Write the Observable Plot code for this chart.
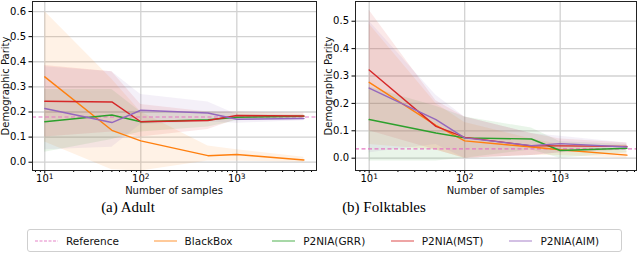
<!DOCTYPE html>
<html>
<head>
<meta charset="utf-8">
<script src="https://cdn.jsdelivr.net/npm/d3@7"></script>
<script src="https://cdn.jsdelivr.net/npm/@observablehq/plot@0.6"></script>
<style>
  html, body { margin: 0; padding: 0; background: #fff; }
  #root { position: relative; width: 640px; height: 255px; overflow: hidden; font-family: "DejaVu Sans", sans-serif; }
  .panel { position: absolute; top: 0; }
  .caption { position: absolute; font-family: "Liberation Serif", serif; font-size: 15px; color: #000; transform: translateX(-50%); white-space: nowrap; }
  #legend { position: absolute; left: 27px; top: 229px; width: 595px; height: 23px; box-sizing: border-box;
            border: 1px solid #cfcfcf; border-radius: 3px; background: #fff; display: flex; }
  .item { flex: 1; display: flex; align-items: center; padding-left: 7px; font-size: 10.5px; color: #111; }
  .item svg { margin-right: 8px; }
</style>
</head>
<body>
<div id="root">
  <div id="left" class="panel" style="left:0px"></div>
  <div id="right" class="panel" style="left:320px"></div>
  <div class="caption" style="left:128px; top:199px">(a) Adult</div>
  <div class="caption" style="left:384px; top:199px">(b) Folktables</div>
  <div id="legend"></div>
</div>
<script>
// ---------- data ----------
const samples = [10, 50, 100, 500, 1000, 5000];
const methods = ["BlackBox", "P2NIA(GRR)", "P2NIA(MST)", "P2NIA(AIM)"];
const methodColors = ["#ff7f0e", "#2ca02c", "#d62728", "#9467bd"];
const referenceColor = "#e377c2";

// Adult
const adultReference = 0.180;
const adultBlackBox    = [0.340, 0.127, 0.085, 0.026, 0.031, 0.009];
const adultBlackBoxLo  = [0.080, -0.030, -0.035, 0.005, 0.005, 0.000];
const adultBlackBoxHi  = [0.600, 0.330, 0.200, 0.065, 0.050, 0.020];
const adultGRR         = [0.161, 0.188, 0.161, 0.169, 0.179, 0.183];
const adultGRRLo       = [0.040, 0.090, 0.120, 0.140, 0.165, 0.175];
const adultGRRHi       = [0.290, 0.290, 0.200, 0.200, 0.195, 0.190];
const adultMST         = [0.243, 0.240, 0.161, 0.166, 0.186, 0.184];
const adultMSTLo       = [0.100, 0.120, 0.100, 0.130, 0.170, 0.175];
const adultMSTHi       = [0.385, 0.360, 0.230, 0.200, 0.200, 0.195];
const adultAIM         = [0.214, 0.158, 0.207, 0.196, 0.171, 0.174];
const adultAIMLo       = [0.050, 0.060, 0.150, 0.160, 0.155, 0.165];
const adultAIMHi       = [0.380, 0.360, 0.270, 0.240, 0.190, 0.185];

// Folktables
const folkReference = 0.034;
const folkBlackBox     = [0.277, 0.120, 0.063, 0.041, 0.031, 0.011];
const folkBlackBoxLo   = [0.050, 0.030, 0.000, 0.010, 0.010, 0.000];
const folkBlackBoxHi   = [0.490, 0.200, 0.130, 0.070, 0.050, 0.025];
const folkGRR          = [0.141, 0.092, 0.074, 0.070, 0.028, 0.036];
const folkGRRLo        = [-0.010, -0.010, 0.000, 0.030, 0.000, 0.020];
const folkGRRHi        = [0.260, 0.190, 0.150, 0.110, 0.060, 0.050];
const folkMST          = [0.322, 0.116, 0.076, 0.045, 0.045, 0.043];
const folkMSTLo        = [0.100, 0.030, 0.000, 0.010, 0.020, 0.030];
const folkMSTHi        = [0.540, 0.210, 0.150, 0.090, 0.070, 0.055];
const folkAIM          = [0.256, 0.141, 0.074, 0.046, 0.053, 0.041];
const folkAIMLo        = [0.020, 0.050, 0.000, 0.010, 0.020, 0.030];
const folkAIMHi        = [0.500, 0.230, 0.150, 0.090, 0.080, 0.055];

const xMajorTicks = [10, 100, 1000];
const xMinorTicks = [8, 9, 20, 30, 40, 50, 60, 70, 80, 90, 200, 300, 400, 500, 600, 700, 800, 900, 2000, 3000, 4000, 5000, 6000];
const adultYTicks = [0, 0.1, 0.2, 0.3, 0.4, 0.5, 0.6];
const folkYTicks = [0, 0.1, 0.2, 0.3, 0.4, 0.5];
const xLabel = "Number of samples";
const yLabel = "Demographic Parity";

// ---------- build ----------
function rows(means, los, his) {
  const out = [];
  methods.forEach((m, k) => {
    samples.forEach((s, i) => out.push({method: m, n: s, v: means[k][i], lo: los[k][i], hi: his[k][i]}));
  });
  return out;
}

function panel(el, cfg) {
  const data = rows(cfg.means, cfg.los, cfg.his);
  const W = 320, H = 200;
  const plot = Plot.plot({
    width: W, height: H,
    marginLeft: cfg.ml, marginRight: cfg.mr, marginTop: 1, marginBottom: 30,
    style: {fontFamily: "DejaVu Sans, sans-serif", fontSize: "10px", background: "transparent", color: "#000"},
    x: {type: "log", domain: cfg.xDomain, axis: null},
    y: {domain: cfg.yDomain, axis: null},
    color: {domain: methods, range: methodColors},
    marks: [
      Plot.gridY(cfg.yTicks, {stroke: "#d2d2d2", strokeOpacity: 1, strokeWidth: 1.3}),
      Plot.gridX(xMajorTicks, {stroke: "#d2d2d2", strokeOpacity: 1, strokeWidth: 1.3}),
      Plot.areaY(data, {x: "n", y1: "lo", y2: "hi", fill: "method", fillOpacity: 0.1, z: "method"}),
      Plot.ruleY([cfg.reference], {stroke: referenceColor, strokeDasharray: "4,2.5", strokeWidth: 1.2}),
      Plot.lineY(data, {x: "n", y: "v", stroke: "method", z: "method", strokeWidth: 1.4}),
      Plot.axisY({ticks: cfg.yTicks, tickSize: 3.5, tickPadding: 3, tickFormat: d3.format(".1f"), fontSize: 10, label: null}),
      Plot.axisX({ticks: xMinorTicks, tickSize: 2, tickFormat: () => "", label: null}),
      Plot.axisX({ticks: xMajorTicks, tickSize: 3.5, tickPadding: 1, tickFormat: d => "10^" + Math.round(Math.log10(d)), fontSize: 10, label: null}),
      Plot.frame({stroke: "#222", strokeWidth: 1})
    ]
  });
  const svg = d3.select(plot);
  // superscript exponents
  svg.selectAll("text").each(function() {
    const t = this.textContent;
    const m = /^10\^(\d)$/.exec(t);
    if (m) {
      const sel = d3.select(this);
      sel.text("10");
      sel.append("tspan").attr("dy", "-0.45em").attr("font-size", "7.5px").text(m[1]);
    }
  });
  // axis titles
  const fx = cfg.ml, fw = W - cfg.ml - cfg.mr;
  svg.append("text").attr("x", fx + fw / 2).attr("y", 194)
    .attr("text-anchor", "middle").attr("font-size", "10px").attr("fill", "#111").text(xLabel);
  svg.append("text").attr("transform", `translate(${cfg.yLabelX},86) rotate(-90)`)
    .attr("text-anchor", "middle").attr("font-size", "10px").attr("fill", "#111").text(yLabel);
  el.appendChild(plot);
}

panel(document.getElementById("left"), {
  ml: 32, mr: 4,
  xDomain: [7.45, 6761], yDomain: [-0.033, 0.640], yTicks: adultYTicks,
  reference: adultReference, yLabelX: 8.5,
  means: [adultBlackBox, adultGRR, adultMST, adultAIM],
  los: [adultBlackBoxLo, adultGRRLo, adultMSTLo, adultAIMLo],
  his: [adultBlackBoxHi, adultGRRHi, adultMSTHi, adultAIMHi]
});
panel(document.getElementById("right"), {
  ml: 35, mr: 4,
  xDomain: [7.19, 6297], yDomain: [-0.045, 0.572], yTicks: folkYTicks,
  reference: folkReference, yLabelX: 12,
  means: [folkBlackBox, folkGRR, folkMST, folkAIM],
  los: [folkBlackBoxLo, folkGRRLo, folkMSTLo, folkAIMLo],
  his: [folkBlackBoxHi, folkGRRHi, folkMSTHi, folkAIMHi]
});

// legend
const legendItems = [{name: "Reference", color: referenceColor, dash: "3,1.5"}]
  .concat(methods.map((m, i) => ({name: m, color: methodColors[i], dash: null})));
const legend = d3.select("#legend");
legendItems.forEach(it => {
  const item = legend.append("div").attr("class", "item");
  const s = item.append("svg").attr("width", 23).attr("height", 6);
  s.append("line").attr("x1", 0).attr("x2", 23).attr("y1", 3).attr("y2", 3)
    .attr("stroke", it.color).attr("stroke-opacity", 0.6).attr("stroke-width", 1.4)
    .attr("stroke-dasharray", it.dash);
  item.append("span").text(it.name);
});
</script>
</body>
</html>
